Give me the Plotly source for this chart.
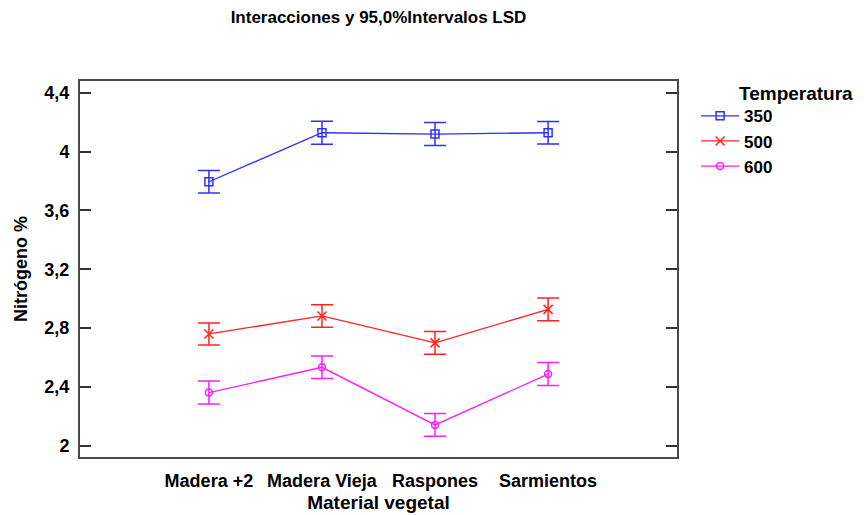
import plotly.graph_objects as go

# Interaction plot: mean nitrogen by plant material and temperature, with 95% LSD intervals
materiales = ["Madera +2", "Madera Vieja", "Raspones", "Sarmientos"]
temperaturas = ["350", "500", "600"]

n_350 = [3.795, 4.128, 4.119, 4.128]
n_500 = [2.760, 2.882, 2.699, 2.927]
n_600 = [2.361, 2.533, 2.141, 2.487]

lsd_350 = [0.076, 0.078, 0.078, 0.077]
lsd_500 = [0.075, 0.076, 0.077, 0.077]
lsd_600 = [0.078, 0.077, 0.077, 0.078]

y_ticks = [2.0, 2.4, 2.8, 3.2, 3.6, 4.0, 4.4]
y_tick_text = ["2", "2,4", "2,8", "3,2", "3,6", "4", "4,4"]

FONT = "Arial, 'Liberation Sans', sans-serif"

series = [
    (temperaturas[0], n_350, lsd_350, "#2f2fff", "square-open", 8),
    (temperaturas[1], n_500, lsd_500, "#ff2323", "x-thin-open", 9),
    (temperaturas[2], n_600, lsd_600, "#ff1dff", "circle-open", 7),
]

x_idx = list(range(len(materiales)))

fig = go.Figure()
for name, vals, err, color, symbol, msize in series:
    fig.add_trace(go.Scatter(
        x=x_idx, y=vals, name="<b>%s</b>" % name, mode="lines+markers",
        line=dict(color=color, width=1.3),
        marker=dict(symbol=symbol, size=msize, color=color,
                    line=dict(color=color, width=1.5)),
        error_y=dict(type="data", array=err, visible=True,
                     color=color, thickness=1.5, width=11),
    ))

fig.update_layout(
    width=868, height=515,
    margin=dict(l=80, r=191, t=81, b=58),
    paper_bgcolor="white", plot_bgcolor="white",
    font=dict(family=FONT, color="black"),
    title=dict(text="<b>Interacciones y 95,0%Intervalos LSD</b>",
               x=(80 + 677) / 2 / 868, xanchor="center",
               y=1 - 17 / 515, yanchor="middle",
               font=dict(size=17, family=FONT)),
    showlegend=True,
    legend=dict(x=1.032, xanchor="left", y=0.954, yanchor="top",
                font=dict(size=17, family=FONT),
                itemwidth=38, tracegroupgap=0,
                bgcolor="rgba(0,0,0,0)"),
    annotations=[dict(text="<b>Temperatura</b>", xref="paper", yref="paper",
                      x=1.10, xanchor="left", y=1 - 12 / 376, yanchor="middle",
                      showarrow=False, font=dict(size=19, family=FONT))],
)

fig.update_xaxes(
    range=[-1.14, 4.14], automargin=False,
    tickmode="array", tickvals=x_idx,
    ticktext=["<b>%s</b>" % m for m in materiales],
    tickfont=dict(size=18, family=FONT),
    ticks="", showgrid=False, zeroline=False,
    showline=True, linecolor="#4a4a4a", linewidth=2, mirror=True,
    ticklabelstandoff=6,
    title=dict(text="<b>Material vegetal</b>", font=dict(size=19, family=FONT),
               standoff=6),
)

fig.update_yaxes(
    range=[1.923, 4.48], automargin=False,
    tickmode="array", tickvals=y_ticks,
    ticktext=["<b>%s</b>" % t for t in y_tick_text],
    tickfont=dict(size=18, family=FONT),
    ticks="inside", ticklen=11, tickwidth=1.5, tickcolor="#333333",
    showgrid=False, zeroline=False,
    showline=True, linecolor="#4a4a4a", linewidth=2, mirror="ticks",
    ticklabelstandoff=5,
    title=dict(text="<b>Nitrógeno %</b>", font=dict(size=18, family=FONT),
               standoff=12),
)

fig.write_html("out.html")
